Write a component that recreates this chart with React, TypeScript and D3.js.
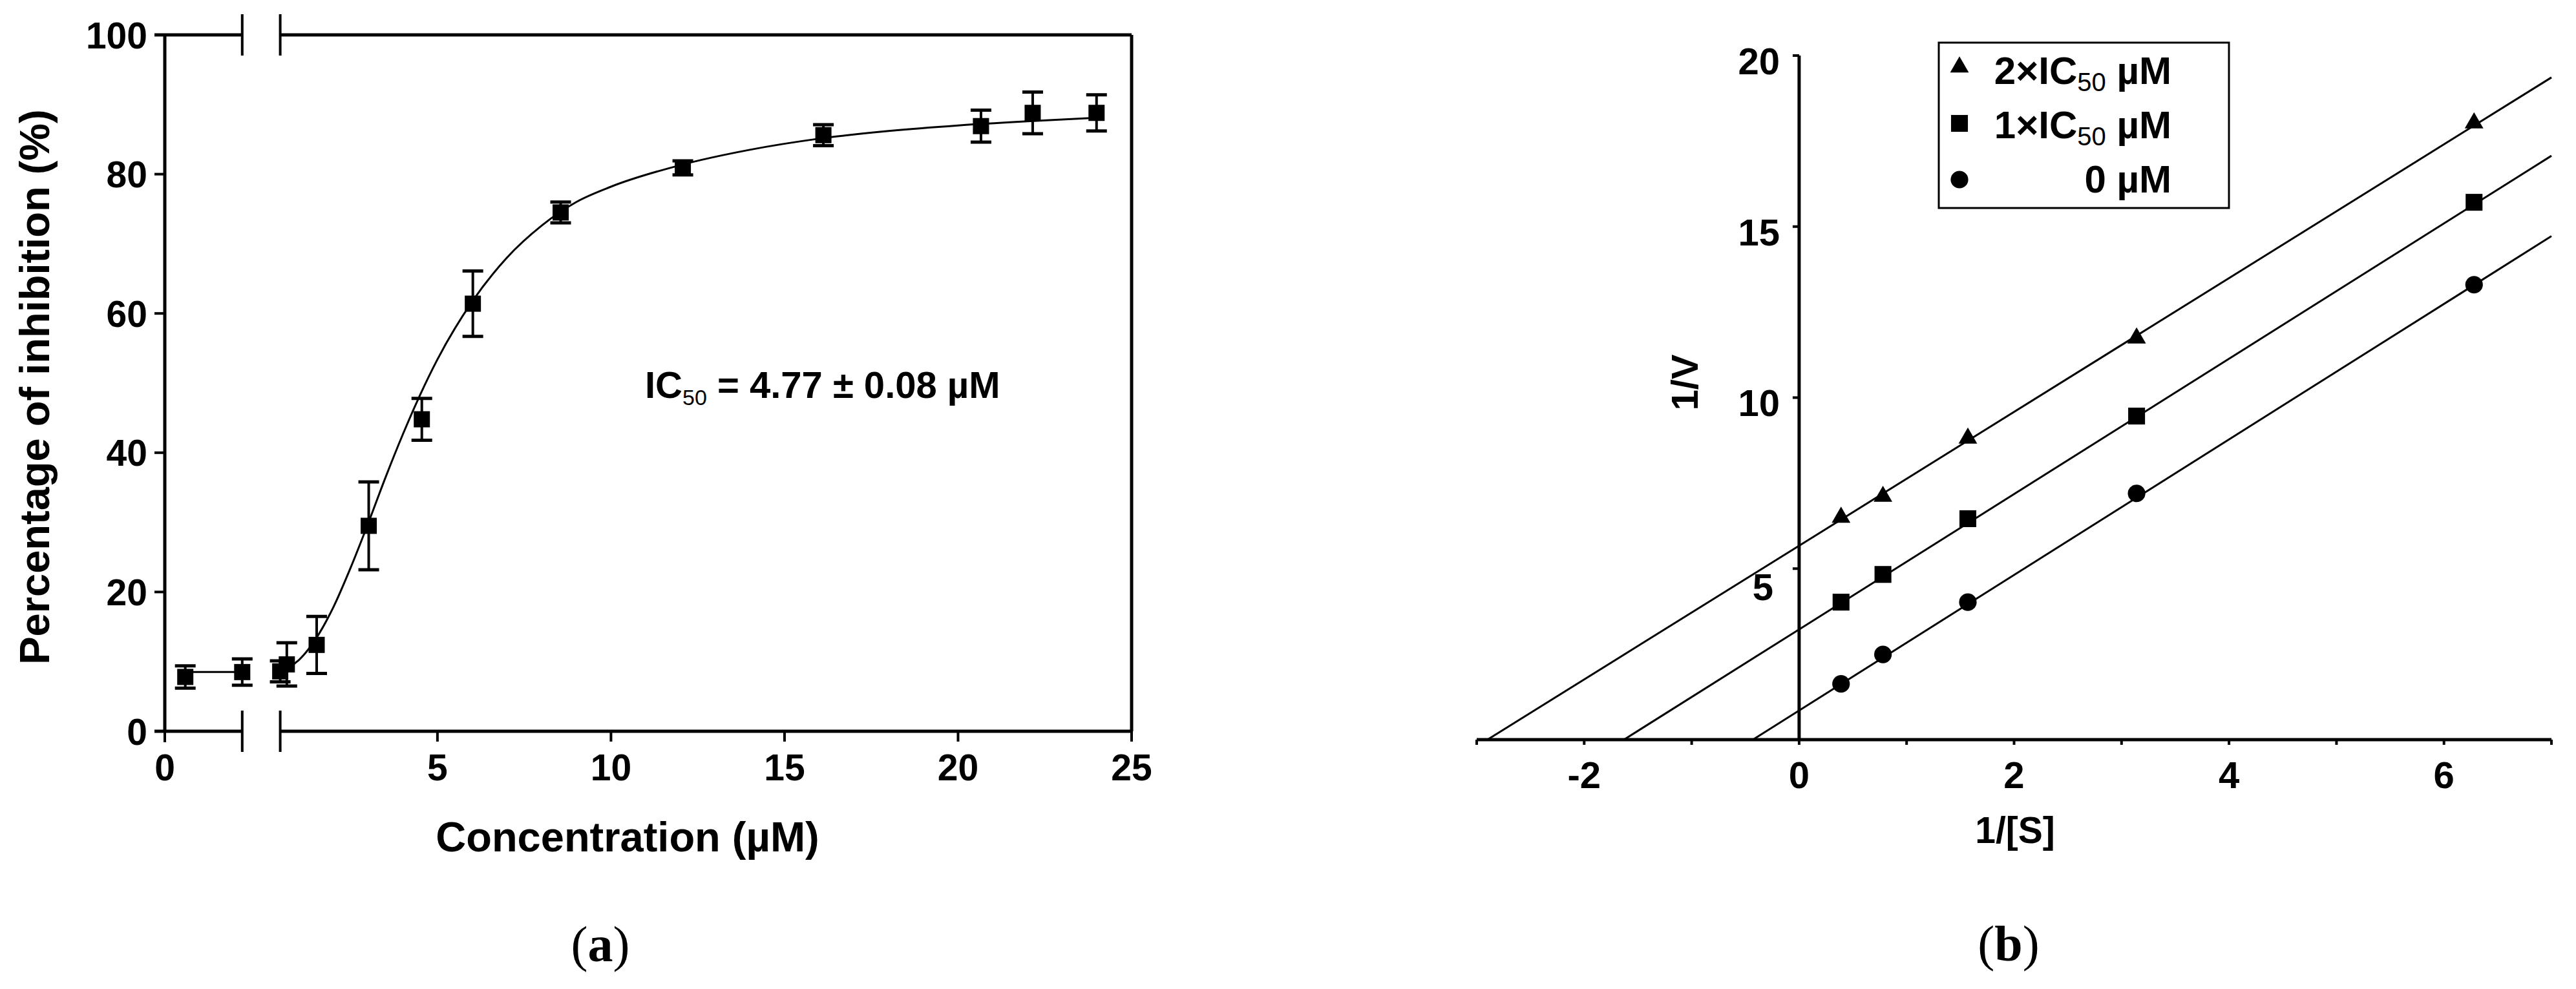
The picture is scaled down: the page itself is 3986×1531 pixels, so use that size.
import React from "react";
import * as d3 from "d3";

const W = 3986;
const H = 1531;

// ---- panel (a): dose response ----
// points left of the axis break
const lowConc = [0.59, 2.23];
const lowInhib = [7.8, 8.5];
const lowErr = [1.6, 1.9];
const lowFit = [8.5, 8.5];
// points right of the axis break
const conc = [0.47, 0.66, 1.52, 3.02, 4.55, 6.02, 8.55, 12.07, 16.12, 20.66, 22.15, 23.99];
const inhib = [8.6, 9.6, 12.4, 29.5, 44.8, 61.4, 74.5, 80.9, 85.6, 86.9, 88.8, 88.8];
const inhibErr = [1.5, 3.1, 4.1, 6.3, 3.0, 4.7, 1.5, 1.0, 1.5, 2.3, 3.0, 2.6];
// fitted sigmoid
const fitConc = [0.47, 1, 1.5, 2, 2.5, 3, 3.5, 4, 4.5, 5, 6, 7, 8, 9, 10, 12, 14, 16, 18, 20, 22, 24];
const fitInhib = [8.7, 10.2, 13.3, 17.8, 23.5, 29.8, 36.4, 42.6, 48.3, 53.4, 61.7, 68.0, 72.6, 76.0, 78.2, 81.3, 83.5, 85.1, 86.2, 87.0, 87.6, 88.1];
const yTicksA = [0, 20, 40, 60, 80, 100];
const xTicksA = [5, 10, 15, 20, 25];

// ---- panel (b): Lineweaver-Burk ----
const invS = [0.39, 0.78, 1.57, 3.14, 6.28];
const invV2x = [6.5, 7.11, 8.81, 11.74, 18.03];
const invV1x = [4.02, 4.83, 6.46, 9.46, 15.71];
const invV0 = [1.63, 2.49, 4.02, 7.2, 13.3];
const fitX2x = [-2.9, 7];
const fitY2x = [0, 19.36];
const fitX1x = [-1.63, 7];
const fitY1x = [0, 17.07];
const fitX0 = [-0.43, 7];
const fitY0 = [0, 14.72];
const seriesNames = ["2×IC", "1×IC", "0 µM"];
const xTicksB = [-2, 0, 2, 4, 6];
const yTicksB = [5, 10, 15, 20];

const SANS = "'Liberation Sans', Arial, sans-serif";
const SERIF = "'Liberation Serif', 'Times New Roman', serif";

function PanelA() {
  const xl = d3.scaleLinear().domain([0, 2.23]).range([255, 374.8]);
  const xr = d3.scaleLinear().domain([0.47, 25]).range([433.6, 1751]);
  const y = d3.scaleLinear().domain([0, 100]).range([1132, 54]);

  const fitLine = d3
    .line<number>()
    .x((d, i) => xr(fitConc[i]))
    .y((d) => y(d))
    .curve(d3.curveMonotoneX);

  const errBar = (cx: number, v: number, e: number, key: string) => (
    <g key={key}>
      <line x1={cx} x2={cx} y1={y(v + e)} y2={y(v - e)} stroke="#000" strokeWidth={4} />
      <line x1={cx - 16} x2={cx + 16} y1={y(v + e)} y2={y(v + e)} stroke="#000" strokeWidth={5} />
      <line x1={cx - 16} x2={cx + 16} y1={y(v - e)} y2={y(v - e)} stroke="#000" strokeWidth={5} />
      <rect x={cx - 12.5} y={y(v) - 12.5} width={25} height={25} fill="#000" />
    </g>
  );

  const x0 = xl.range()[0];
  const x1 = xr.range()[1];
  const bl = xl.range()[1];
  const br = xr.range()[0];

  return (
    <g>
      {/* frame with break */}
      <g stroke="#000" strokeWidth={5} fill="none">
        <line x1={x0} x2={x0} y1={y(0)} y2={y(100)} />
        <line x1={x1} x2={x1} y1={y(0)} y2={y(100)} />
        {[0, 100].map((v) => (
          <g key={v}>
            <line x1={x0 - 16} x2={bl} y1={y(v)} y2={y(v)} />
            <line x1={br} x2={x1} y1={y(v)} y2={y(v)} />
          </g>
        ))}
      </g>
      <g stroke="#000" strokeWidth={4}>
        {[0, 100].map((v) =>
          [bl, br].map((bx) => (
            <line key={v + "-" + bx} x1={bx} x2={bx} y1={y(v) - 32} y2={y(v) + 32} />
          ))
        )}
      </g>
      {/* y ticks */}
      {yTicksA.map((t) => (
        <g key={t}>
          <line x1={x0 - 16} x2={x0} y1={y(t)} y2={y(t)} stroke="#000" strokeWidth={4} />
          <text
            x={228}
            y={y(t)}
            dy="0.36em"
            textAnchor="end"
            fontFamily={SANS}
            fontWeight="bold"
            fontSize={57}
          >
            {t}
          </text>
        </g>
      ))}
      {/* x ticks */}
      <line x1={xl(0)} x2={xl(0)} y1={y(0)} y2={y(0) + 17} stroke="#000" strokeWidth={4} />
      <text x={xl(0)} y={1208} textAnchor="middle" fontFamily={SANS} fontWeight="bold" fontSize={57}>
        0
      </text>
      {xTicksA.map((t) => (
        <g key={t}>
          <line x1={xr(t)} x2={xr(t)} y1={y(0)} y2={y(0) + 16} stroke="#000" strokeWidth={4} />
          <text x={xr(t)} y={1208} textAnchor="middle" fontFamily={SANS} fontWeight="bold" fontSize={57}>
            {t}
          </text>
        </g>
      ))}
      {/* fitted curve */}
      <line
        x1={xl(lowConc[0])}
        x2={xl(lowConc[1])}
        y1={y(lowFit[0])}
        y2={y(lowFit[1])}
        stroke="#000"
        strokeWidth={3}
      />
      <path d={fitLine(fitInhib) || ""} fill="none" stroke="#000" strokeWidth={3} />
      {lowConc.map((c, i) => errBar(xl(c), lowInhib[i], lowErr[i], "l" + i))}
      {conc.map((c, i) => errBar(xr(c), inhib[i], inhibErr[i], "r" + i))}
      {/* annotation */}
      <text x={998} y={616} fontFamily={SANS} fontWeight="bold" fontSize={58}>
        IC
        <tspan fontSize={34} fontWeight="normal" dy={11}>
          50
        </tspan>
        <tspan dy={-11}>{" = 4.77 ± 0.08 µM"}</tspan>
      </text>
      {/* axis titles */}
      <text
        transform="translate(76,599) rotate(-90)"
        textAnchor="middle"
        fontFamily={SANS}
        fontWeight="bold"
        fontSize={65}
      >
        Percentage of inhibition (%)
      </text>
      <text x={971} y={1318} textAnchor="middle" fontFamily={SANS} fontWeight="bold" fontSize={65}>
        Concentration (µM)
      </text>
      <text x={929} y={1488} textAnchor="middle" fontFamily={SERIF} fontSize={78}>
        (<tspan fontWeight="bold">a</tspan>)
      </text>
    </g>
  );
}

function PanelB() {
  const x = d3.scaleLinear().domain([-3, 7]).range([2285, 3948]);
  const y = d3.scaleLinear().domain([0, 20]).range([1145, 86]);
  const line = d3
    .line<[number, number]>()
    .x((d) => x(d[0]))
    .y((d) => y(d[1]));

  const fits: [number[], number[]][] = [
    [fitX2x, fitY2x],
    [fitX1x, fitY1x],
    [fitX0, fitY0],
  ];
  const values = [invV2x, invV1x, invV0];
  const symbols = [
    d3.symbol().type(d3.symbolTriangle).size(360),
    d3.symbol().type(d3.symbolSquare).size(680),
    d3.symbol().type(d3.symbolCircle).size(580),
  ];
  const intTicks = d3.range(-3, 8);

  const legendY = [104, 191, 278];
  const legendBase = [130, 214, 298];

  return (
    <g>
      {/* fit lines */}
      {fits.map(([fx, fy], i) => (
        <path
          key={i}
          d={line(fx.map((v, j) => [v, fy[j]] as [number, number])) || ""}
          fill="none"
          stroke="#000"
          strokeWidth={3}
        />
      ))}
      {/* axes */}
      <line x1={x(-3)} x2={x(7)} y1={y(0)} y2={y(0)} stroke="#000" strokeWidth={5} />
      <line x1={x(0)} x2={x(0)} y1={y(0)} y2={y(20)} stroke="#000" strokeWidth={5} />
      {intTicks.map((t) => (
        <line key={t} x1={x(t)} x2={x(t)} y1={y(0)} y2={y(0) + 8} stroke="#000" strokeWidth={4} />
      ))}
      {xTicksB.map((t) => (
        <text key={t} x={x(t)} y={1220} textAnchor="middle" fontFamily={SANS} fontWeight="bold" fontSize={58}>
          {t}
        </text>
      ))}
      {yTicksB.map((t) => (
        <g key={t}>
          <line x1={x(0) - 10} x2={x(0)} y1={y(t)} y2={y(t)} stroke="#000" strokeWidth={4} />
          <text
            x={t === 5 ? 2744 : 2754}
            y={y(t) + (t === 5 ? 28 : 8)}
            dy="0.36em"
            textAnchor="end"
            fontFamily={SANS}
            fontWeight="bold"
            fontSize={58}
          >
            {t}
          </text>
        </g>
      ))}
      {/* markers */}
      {values.map((vals, i) =>
        vals.map((v, j) => (
          <path
            key={i + "-" + j}
            d={symbols[i]() || ""}
            transform={`translate(${x(invS[j])},${y(v)})`}
            fill="#000"
          />
        ))
      )}
      {/* axis titles */}
      <text
        transform="translate(2627,592) rotate(-90)"
        textAnchor="middle"
        fontFamily={SANS}
        fontWeight="bold"
        fontSize={58}
      >
        1/V
      </text>
      <text x={3118} y={1305} textAnchor="middle" fontFamily={SANS} fontWeight="bold" fontSize={57}>
        1/[S]
      </text>
      {/* legend */}
      <rect x={3000} y={66} width={449} height={256} fill="#fff" stroke="#000" strokeWidth={3} />
      {seriesNames.map((name, i) => (
        <g key={name}>
          <path d={symbols[i]() || ""} transform={`translate(3032,${legendY[i]})`} fill="#000" />
          {i < 2 ? (
            <text x={3360} y={legendBase[i]} textAnchor="end" fontFamily={SANS} fontWeight="bold" fontSize={60}>
              {name}
              <tspan fontSize={40} fontWeight="normal" dy={11}>
                50
              </tspan>
              <tspan dy={-11}>{" µM"}</tspan>
            </text>
          ) : (
            <text x={3360} y={legendBase[i]} textAnchor="end" fontFamily={SANS} fontWeight="bold" fontSize={60}>
              {name}
            </text>
          )}
        </g>
      ))}
      <text x={3108} y={1487} textAnchor="middle" fontFamily={SERIF} fontSize={78}>
        (<tspan fontWeight="bold">b</tspan>)
      </text>
    </g>
  );
}

export default function App() {
  return (
    <svg
      width={W}
      height={H}
      viewBox={`0 0 ${W} ${H}`}
      style={{ position: "absolute", left: 0, top: 0, background: "#fff" }}
    >
      <rect width={W} height={H} fill="#fff" />
      <PanelA />
      <PanelB />
    </svg>
  );
}
